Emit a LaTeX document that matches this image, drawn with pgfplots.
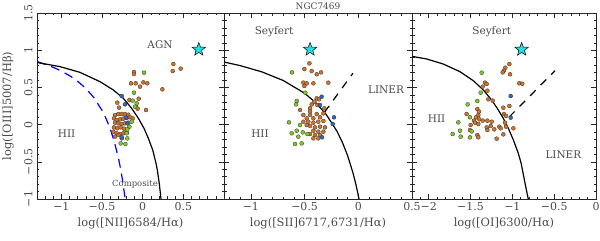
\documentclass[border=0pt]{standalone}
\usepackage{fontspec}
\setmainfont{DejaVu Serif}
\usepackage{graphicx}
\usepackage{pgfplots}
\pgfplotsset{compat=1.18}
\definecolor{ptor}{RGB}{210,114,40}
\definecolor{ptgr}{RGB}{128,200,40}
\definecolor{ptbl}{RGB}{40,105,200}
\definecolor{starc}{RGB}{30,225,225}
\definecolor{txt}{RGB}{75,75,75}
\pgfdeclareplotmark{fstar}{%
  \pgfpathmoveto{\pgfqpointpolar{90}{\pgfplotmarksize}}%
  \pgfpathlineto{\pgfqpointpolar{126}{0.42\pgfplotmarksize}}%
  \pgfpathlineto{\pgfqpointpolar{162}{\pgfplotmarksize}}%
  \pgfpathlineto{\pgfqpointpolar{198}{0.42\pgfplotmarksize}}%
  \pgfpathlineto{\pgfqpointpolar{234}{\pgfplotmarksize}}%
  \pgfpathlineto{\pgfqpointpolar{270}{0.42\pgfplotmarksize}}%
  \pgfpathlineto{\pgfqpointpolar{306}{\pgfplotmarksize}}%
  \pgfpathlineto{\pgfqpointpolar{342}{0.42\pgfplotmarksize}}%
  \pgfpathlineto{\pgfqpointpolar{18}{\pgfplotmarksize}}%
  \pgfpathlineto{\pgfqpointpolar{54}{0.42\pgfplotmarksize}}%
  \pgfpathclose
  \pgfusepathqfillstroke}
\tikzset{reg/.style={font=\fontsize{10.5}{12}\selectfont, text=txt}}
\newcommand{\ry}[1]{\rotatebox{90}{#1}}
\pgfplotsset{
  bpt/.style={
    scale only axis, height=186bp, ymin=-1, ymax=1.5,
    anchor=south west,
    axis line style={black!85, line width=0.6pt},
    tick style={black!85, line width=0.5pt},
    tick align=inside, tick pos=both,
    major tick length=5bp, minor tick length=2.5bp,
    ytick={-1,-0.5,0,0.5,1,1.5},
    minor ytick={-0.9,-0.8,-0.7,-0.6,-0.4,-0.3,-0.2,-0.1,0.1,0.2,0.3,0.4,0.6,0.7,0.8,0.9,1.1,1.2,1.3,1.4},
    tick label style={font=\fontsize{11}{12}\selectfont, text=txt},
    label style={font=\fontsize{11.5}{13}\selectfont, text=txt},
    clip=true,
  },
  orp/.style={only marks, mark=*, mark size=2bp, mark options={fill=ptor, draw=black!80, line width=0.3pt}},
  grp/.style={only marks, mark=*, mark size=2bp, mark options={fill=ptgr, draw=black!80, line width=0.3pt}},
  blp/.style={only marks, mark=*, mark size=2bp, mark options={fill=ptbl, draw=black!80, line width=0.3pt}},
  stp/.style={only marks, mark=fstar, mark size=7bp, mark options={fill=starc, draw=black, line width=0.5pt}},
}
\begin{document}
\begin{tikzpicture}
\path[use as bounding box] (0,0) rectangle (600bp,241bp);
% ---------------- Panel 1 ----------------
\begin{axis}[bpt, at={(37bp,42bp)}, width=187bp,
  xmin=-1.3, xmax=1.0, xtick={-1,-0.5,0,0.5},
  xticklabels={−1,−0.5,0,0.5},
  yticklabels={\ry{−1},\ry{−0.5},\ry{0},\ry{0.5},\ry{1},\ry{1.5}},
  yticklabel style={anchor=east, xshift=-1bp},
  minor xtick={-1.2,-1.1,-0.9,-0.8,-0.7,-0.6,-0.4,-0.3,-0.2,-0.1,0.1,0.2,0.3,0.4,0.6,0.7,0.8,0.9},
  xlabel={log([NII]6584/Hα)},
  ylabel={log([OIII]5007/Hβ)},
  ylabel style={at={(axis description cs:-0.155,0.5)}, anchor=center},
]
\addplot[blue, line width=1.2pt, dash pattern=on 9bp off 6bp] coordinates {
 (-1.3,0.848) (-1.1,0.770) (-1.0,0.719) (-0.9,0.658) (-0.8,0.582) (-0.7,0.487)
 (-0.6,0.362) (-0.5,0.191) (-0.45,0.08) (-0.4,-0.056) (-0.35,-0.225) (-0.3,-0.443)
 (-0.275,-0.577) (-0.25,-0.733) (-0.215,-1.002)};
\addplot[black, line width=1.2pt] coordinates {
 (-1.3,0.835) (-1.017,0.779) (-0.771,0.702) (-0.525,0.577) (-0.361,0.465)
 (-0.238,0.353) (-0.136,0.219) (-0.053,0.084) (0.016,-0.050) (0.070,-0.185)
 (0.123,-0.341) (0.164,-0.521) (0.180,-0.610) (0.205,-0.80) (0.225,-1.0)};
\addplot[orp] coordinates {
 (0.377,0.814) (0.369,0.720) (0.467,0.752) (0.242,0.474) (-0.107,0.707) (-0.107,0.680)
 (-0.144,0.555) (-0.086,0.555) (-0.033,0.510) (0.008,0.568) (0.057,0.555)
 (-0.049,0.348) (-0.164,0.331) (-0.312,0.295) (-0.291,0.228) (-0.082,0.241)
 (-0.062,0.214) (0.041,0.196)
 (-0.340,0.129) (-0.300,0.142) (-0.258,0.142) (-0.218,0.142) (-0.177,0.133)
 (-0.353,0.084) (-0.320,0.062) (-0.279,0.071) (-0.238,0.080) (-0.197,0.089)
 (-0.156,0.098) (-0.123,0.084) (-0.340,0.026) (-0.300,0.017) (-0.258,0.008)
 (-0.218,0.017) (-0.177,0.026) (-0.353,-0.037) (-0.312,-0.050) (-0.271,-0.037)
 (-0.230,-0.055) (-0.361,-0.095) (-0.320,-0.117) (-0.279,-0.126) (-0.238,-0.117)
 (-0.197,-0.108) (-0.340,-0.162) (-0.300,-0.140) (-0.258,-0.185)};
\addplot[grp] coordinates {
 (0.016,0.698) (-0.107,0.429) (-0.123,0.322) (-0.074,0.286) (-0.094,0.241)
 (-0.135,0.039) (-0.164,-0.028) (-0.189,-0.064) (-0.197,-0.117) (-0.189,-0.185)
 (-0.271,-0.252) (-0.213,-0.261)};
\addplot[blp] coordinates {
 (-0.258,0.384) (-0.218,0.272) (-0.205,0.093) (-0.189,0.017) (-0.258,-0.171)};
\addplot[stp] coordinates {(0.69,1.01)};
\node[reg] at (axis cs:0.213,1.07) {AGN};
\node[reg] at (axis cs:-0.935,-0.117) {HII};
\node[reg, font=\fontsize{8.5}{10}\selectfont] at (axis cs:-0.095,-0.80) {Composite};
\end{axis}
% ---------------- Panel 2 ----------------
\begin{axis}[bpt, at={(224bp,42bp)}, width=188bp,
  xmin=-1.25, xmax=0.5, xtick={-1,-0.5,0,0.5},
  xticklabels={−1,−0.5,0,0.5},
  minor xtick={-1.2,-1.1,-0.9,-0.8,-0.7,-0.6,-0.4,-0.3,-0.2,-0.1,0.1,0.2,0.3,0.4},
  xlabel={log([SII]6717,6731/Hα)},
  yticklabel=\empty,
  title={NGC7469},
  title style={font=\fontsize{9}{11}\selectfont, text=txt, at={(0.5,1)}, anchor=base, yshift=-2.5bp},
]
\addplot[black, line width=1.2pt] coordinates {
 (-1.25,0.841) (-1.1,0.793) (-0.9,0.710) (-0.7,0.594) (-0.5,0.422) (-0.4,0.300)
 (-0.3,0.139) (-0.2,-0.085) (-0.15,-0.232) (-0.1,-0.414) (-0.05,-0.646)
 (-0.02,-0.818) (0.007,-1.0)};
\addplot[black, line width=1.2pt, dash pattern=on 8bp off 7bp] coordinates {
 (-0.315,0.165) (-0.05,0.69)};
\addplot[orp] coordinates {
 (-0.455,0.823) (-0.502,0.747) (-0.434,0.720) (-0.387,0.676) (-0.347,0.702)
 (-0.511,0.564) (-0.480,0.555) (-0.418,0.555) (-0.502,0.519) (-0.279,0.564)
 (-0.387,0.353) (-0.409,0.308) (-0.365,0.340) (-0.434,0.272) (-0.381,0.263)
 (-0.542,0.196) (-0.449,0.219) (-0.449,0.174) (-0.511,0.129) (-0.449,0.129)
 (-0.387,0.142) (-0.325,0.151) (-0.480,0.084) (-0.418,0.084) (-0.356,0.098)
 (-0.511,0.039) (-0.465,0.039) (-0.418,0.026) (-0.372,0.039) (-0.325,0.048)
 (-0.480,-0.006) (-0.449,-0.019) (-0.403,-0.037) (-0.356,-0.028) (-0.310,-0.037)
 (-0.418,-0.082) (-0.372,-0.095) (-0.325,-0.095) (-0.449,-0.126) (-0.403,-0.140)
 (-0.356,-0.140) (-0.418,-0.185) (-0.372,-0.185) (-0.316,0.219)};
\addplot[grp] coordinates {
 (-0.617,0.702) (-0.493,0.429) (-0.573,0.317) (-0.579,0.272) (-0.645,0.030)
 (-0.542,-0.006) (-0.573,-0.082) (-0.620,-0.117) (-0.558,-0.162) (-0.517,-0.104)
 (-0.474,-0.126) (-0.589,-0.261) (-0.527,-0.252)};
\addplot[blp] coordinates {
 (-0.341,0.375) (-0.356,0.263) (-0.226,0.098) (-0.238,0.008) (-0.337,-0.171)};
\addplot[stp] coordinates {(-0.449,1.01)};
\node[reg] at (axis cs:-0.784,1.249) {Seyfert};
\node[reg] at (axis cs:-0.915,-0.117) {HII};
\node[reg] at (axis cs:0.258,0.465) {LINER};
\end{axis}
% ---------------- Panel 3 ----------------
\begin{axis}[bpt, at={(412bp,42bp)}, width=184bp,
  xmin=-2.2, xmax=0, xtick={-2,-1.5,-1,-0.5,0},
  xticklabels={−2,−1.5,−1,−0.5,0},
  minor xtick={-2.1,-1.9,-1.8,-1.7,-1.6,-1.4,-1.3,-1.2,-1.1,-0.9,-0.8,-0.7,-0.6,-0.4,-0.3,-0.2,-0.1},
  xlabel={log([OI]6300/Hα)},
  yticklabel=\empty,
]
\addplot[black, line width=1.2pt] coordinates {
 (-2.224,0.922) (-2.025,0.882) (-1.826,0.814) (-1.626,0.711) (-1.467,0.590)
 (-1.347,0.465) (-1.248,0.331) (-1.168,0.196) (-1.108,0.084) (-1.048,-0.050)
 (-0.988,-0.207) (-0.929,-0.386) (-0.895,-0.52) (-0.85,-0.78) (-0.81,-1.0)};
\addplot[black, line width=1.2pt, dash pattern=on 8bp off 7bp] coordinates {
 (-1.04,0.10) (-0.49,0.725)};
\addplot[orp] coordinates {
 (-1.036,0.814) (-1.084,0.765) (-1.100,0.725) (-1.116,0.702) (-1.028,0.676)
 (-1.327,0.564) (-1.307,0.546) (-1.355,0.510) (-1.299,0.456) (-0.917,0.555)
 (-0.881,0.550) (-1.287,0.340) (-1.235,0.322) (-1.108,0.227) (-1.036,0.250)
 (-1.419,0.210) (-1.399,0.174) (-1.547,0.142) (-1.407,0.129) (-1.435,0.098)
 (-1.395,0.071) (-1.355,0.053) (-1.459,0.053) (-1.499,-0.006) (-1.447,0.026)
 (-1.299,0.053) (-1.247,0.039) (-1.100,0.142) (-1.076,0.116) (-1.088,0.026)
 (-1.156,-0.028) (-1.076,-0.028) (-1.307,-0.037) (-1.259,-0.019) (-1.299,-0.073)
 (-1.216,-0.064) (-1.140,-0.050) (-1.507,-0.073) (-0.988,-0.050) (-1.419,-0.140)
 (-1.407,-0.171) (-1.188,-0.189) (-1.108,-0.131) (-1.407,0.008)};
\addplot[grp] coordinates {
 (-1.367,0.698) (-1.379,0.429) (-1.419,0.317) (-1.535,0.272) (-1.507,0.098)
 (-1.646,0.030) (-1.626,-0.082) (-1.714,-0.126) (-1.618,-0.162) (-1.507,-0.171)
 (-1.487,-0.091)};
\addplot[blp] coordinates {(-1.020,0.384) (-1.020,0.093)};
\addplot[stp] coordinates {(-0.889,1.01)};
\node[reg] at (axis cs:-1.247,1.249) {Seyfert};
\node[reg] at (axis cs:-1.905,0.075) {HII};
\node[reg] at (axis cs:-0.39,-0.41) {LINER};
\end{axis}
\end{tikzpicture}
\end{document}
